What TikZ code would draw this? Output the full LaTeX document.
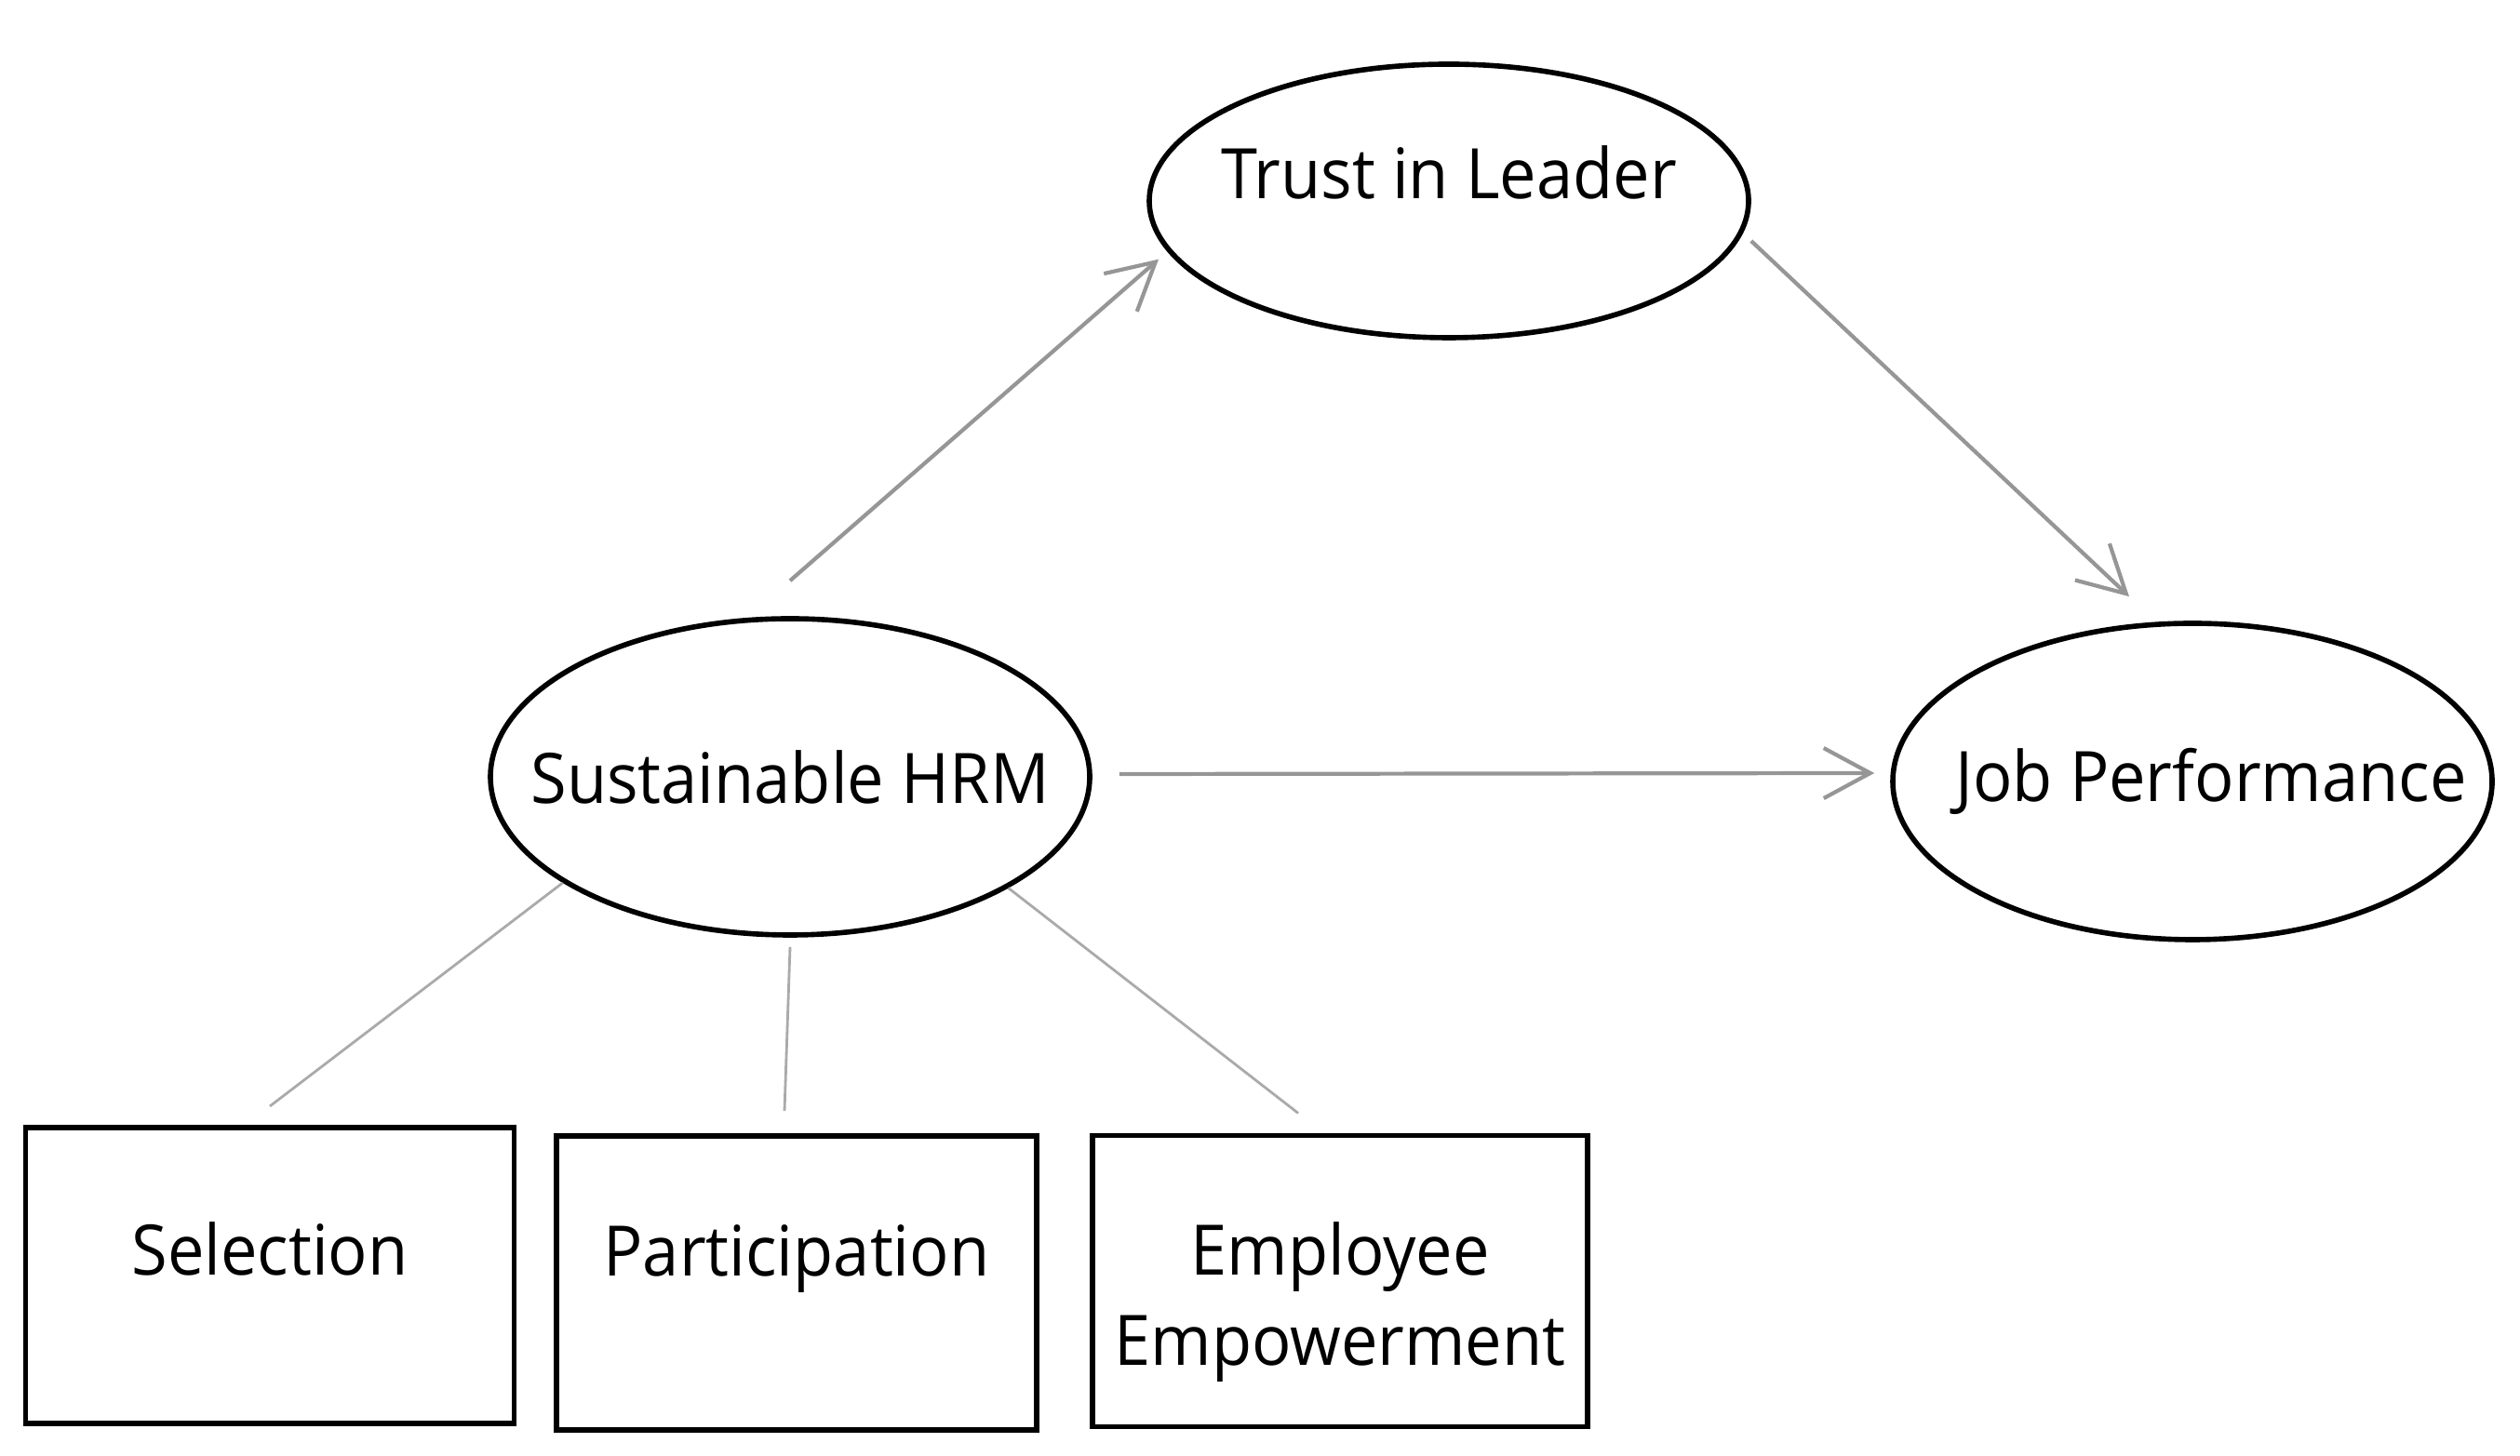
\documentclass[tikz,border=0pt]{standalone}
\usepackage{fontspec}
\setmainfont{Open Sans}[FakeStretch=0.94]
\usetikzlibrary{shapes.geometric,arrows.meta}

\definecolor{arrowgray}{RGB}{150,150,150}
\definecolor{linegray}{RGB}{170,170,170}

\tikzset{
  construct/.style={draw, ellipse, line width=1.6pt, inner xsep=-1.5cm, inner ysep=0pt, minimum width=6.44cm},
  dimbox/.style={draw, rectangle, line width=1.7pt, inner sep=0pt, align=center},
  patharrow/.style={draw=arrowgray, line width=1.2pt, -{Straight Barb[length=5mm,width=5.4mm]}},
  dimline/.style={draw=linegray, line width=0.8pt}
}

\begin{document}
\begin{tikzpicture}[font=\fontsize{21.3pt}{27.8pt}\selectfont]
    \useasboundingbox (0,0) rectangle (27.08,15.65);

    % Constructs
    \node[construct, minimum height=2.94cm, text height=0.55cm, text depth=0.59cm] (trust) at (15.57,13.49) {Trust in Leader};
    \node[construct, minimum height=3.40cm] (hrm) at (8.49,7.30) {Sustainable HRM};
    \node[construct, minimum height=3.40cm] (job) at (23.56,7.25) {\hspace*{0.4cm}Job Performance};

    % Dimensions of sustainable HRM
    \node[dimbox, minimum width=5.25cm, minimum height=3.18cm, text height=0.55cm, text depth=0.55cm] (sel) at (2.90,1.94) {Selection};
    \node[dimbox, minimum width=5.16cm, minimum height=3.16cm, text height=0.55cm, text depth=0.69cm] (par) at (8.56,1.86) {Participation};
    \node[dimbox, minimum width=5.32cm, minimum height=3.13cm, text height=1.85cm, text depth=0.03cm] (emp) at (14.40,1.88) {Employee\\Empowerment};

    % Paths between constructs
    \draw[patharrow] ([yshift=0.38cm]hrm.north) -- ([xshift=-0.17cm]trust.192);
    \draw[patharrow] ([yshift=-0.43cm]trust.east) -- ([shift={(-0.68cm,0.26cm)}]job.north);
    \draw[patharrow] ([shift={(0.29cm,0.03cm)}]hrm.east) -- ([shift={(-0.17cm,0.09cm)}]job.west);

    % Links to dimensions
    \draw[dimline] (hrm.205) -- ([yshift=0.2cm]sel.north);
    \draw[dimline] ([yshift=-0.1cm]hrm.south) -- ([shift={(-0.13cm,0.24cm)}]par.north);
    \draw[dimline] (hrm.-27) -- ([shift={(-0.45cm,0.21cm)}]emp.north);
\end{tikzpicture}
\end{document}
